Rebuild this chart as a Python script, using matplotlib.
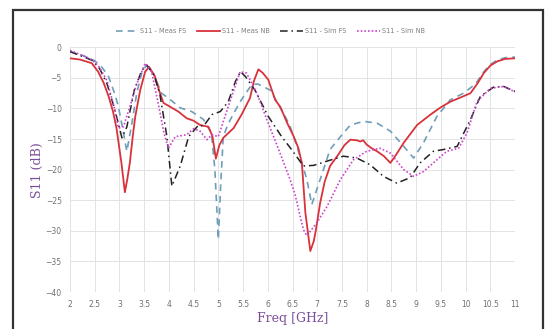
import matplotlib
matplotlib.use("Agg")
import matplotlib.pyplot as plt
from matplotlib.patches import Rectangle

# Meas NB (red solid)
f_meas_nb = [2.0, 2.2, 2.44, 2.57, 2.68, 2.78, 2.87, 2.94, 3.04, 3.11, 3.16, 3.21, 3.27, 3.32, 3.42, 3.52, 3.6,
             3.72, 3.8, 3.89, 4.0, 4.19, 4.36, 4.5, 4.63, 4.8, 4.88, 4.95, 5.02, 5.1, 5.31, 5.47, 5.64, 5.72,
             5.81, 5.9, 6.01, 6.15, 6.25, 6.4, 6.52, 6.62, 6.69, 6.76, 6.86, 6.93, 6.97, 7.06, 7.15, 7.26,
             7.43, 7.55, 7.67, 7.8, 7.87, 7.93, 8.0, 8.1, 8.21, 8.35, 8.48, 8.6, 8.75, 9.02, 9.29, 9.5,
             9.69, 9.9, 10.1, 10.25, 10.37, 10.5, 10.64, 10.8, 11.0]
s_meas_nb = [-1.8, -2.0, -2.6, -4.0, -5.8, -8.0, -10.5, -13.2, -18.9, -23.7, -21.5, -18.9, -14.5, -11.3, -7.0, -4.0, -3.2,
             -4.8, -7.0, -9.1, -9.6, -10.5, -11.6, -12.0, -12.7, -13.0, -14.5, -18.2, -16.0, -14.8, -13.2, -11.0, -8.3, -5.5,
             -3.6, -4.2, -5.3, -8.6, -9.7, -12.5, -14.5, -16.5, -19.0, -27.0, -33.3, -31.7, -30.0, -25.4, -22.0, -19.4,
             -17.5, -16.0, -15.1, -15.2, -15.4, -15.2, -15.9, -16.5, -17.0, -17.8, -18.9, -17.5, -15.6, -12.7, -11.0, -9.8,
             -8.9, -8.2, -7.5, -5.8, -4.2, -3.0, -2.3, -1.9, -1.8]

# Meas FS (blue dashed)
f_meas_fs = [2.0, 2.25, 2.5, 2.65, 2.78, 2.9, 2.98, 3.07, 3.15, 3.25, 3.35, 3.45, 3.55, 3.7, 3.85, 3.99, 4.23,
             4.46, 4.7, 4.86, 4.93, 5.0, 5.05, 5.1, 5.2, 5.31, 5.45, 5.58, 5.68, 5.8, 6.05, 6.32, 6.45, 6.59,
             6.79, 6.89, 7.06, 7.26, 7.47, 7.67, 7.94, 8.21, 8.48, 8.75, 8.95, 9.15, 9.42, 9.69, 9.96, 10.2,
             10.37, 10.5, 10.64, 10.8, 11.0]
s_meas_fs = [-0.7, -1.3, -2.2, -3.3, -4.8, -7.5, -9.7, -13.5, -17.0, -12.5, -7.5, -4.2, -2.9, -4.5, -7.5, -8.3, -9.9,
             -10.5, -11.8, -14.0, -20.0, -31.4, -22.0, -14.6, -12.5, -10.8, -8.8, -7.2, -6.1, -6.0, -7.0, -10.8, -12.9, -16.2,
             -21.6, -25.7, -21.6, -16.7, -14.6, -12.7, -12.1, -12.4, -13.7, -16.2, -18.1, -15.6, -11.3, -8.6, -7.5, -6.0,
             -4.0, -2.8, -2.1, -1.7, -1.6]

# Sim FS (black dash-dot)
f_sim_fs = [2.0, 2.44, 2.6, 2.75, 2.9, 3.05, 3.15, 3.3, 3.45, 3.55, 3.7, 3.82, 3.96, 4.06, 4.23, 4.4, 4.6, 4.7,
            4.87, 5.04, 5.2, 5.35, 5.45, 5.55, 5.74, 6.01, 6.28, 6.48, 6.72, 6.93, 7.2, 7.53, 7.8, 8.07, 8.34,
            8.61, 8.88, 9.08, 9.35, 9.56, 9.83, 10.1, 10.3, 10.57, 10.77, 11.0]
s_sim_fs = [-0.7, -2.1, -3.5, -6.0, -10.0, -14.8, -13.0, -7.0, -3.8, -2.9, -4.5, -7.8, -14.6, -22.7, -19.4, -14.6, -12.7, -12.9,
            -11.0, -10.5, -8.9, -5.5, -4.0, -4.8, -7.0, -11.3, -14.6, -16.7, -19.4, -19.3, -18.6, -17.8, -18.1, -19.2, -21.1,
            -22.2, -21.3, -18.9, -17.0, -16.7, -16.2, -11.8, -8.0, -6.5, -6.4, -7.2]

# Sim NB (magenta dotted)
f_sim_nb = [2.0, 2.44, 2.6, 2.75, 2.9, 2.98, 3.08, 3.2, 3.35, 3.52, 3.65, 3.79, 3.9, 3.99, 4.13, 4.36, 4.5, 4.63,
            4.77, 4.87, 5.0, 5.2, 5.34, 5.44, 5.57, 5.78, 5.98, 6.22, 6.45, 6.55, 6.72, 6.79, 6.99, 7.2, 7.47,
            7.73, 8.0, 8.27, 8.48, 8.75, 8.95, 9.15, 9.42, 9.62, 9.86, 10.03, 10.23, 10.5, 10.77, 11.0]
s_sim_nb = [-0.5, -2.0, -3.3, -5.5, -10.0, -13.2, -13.0, -10.0, -6.0, -2.6, -4.0, -9.4, -14.0, -16.5, -14.6, -14.3, -13.3, -13.7,
            -15.1, -14.3, -14.6, -9.7, -6.4, -4.0, -4.2, -7.5, -11.8, -16.7, -21.6, -24.0, -29.8, -30.8, -28.7, -26.0, -21.6,
            -18.4, -17.0, -16.5, -17.3, -20.0, -21.1, -20.3, -18.4, -17.0, -16.5, -14.0, -8.9, -6.7, -6.4, -7.3]

x_ticks = [2, 2.5, 3, 3.5, 4, 4.5, 5, 5.5, 6, 6.5, 7, 7.5, 8, 8.5, 9, 9.5, 10, 10.5, 11]
x_ticklabels = ["2", "2.5", "3", "3.5", "4", "4.5", "5", "5.5", "6", "6.5", "7", "7.5", "8", "8.5", "9",
                "9.5", "10", "10.5", "11"]
y_ticks = [0, -5, -10, -15, -20, -25, -30, -35, -40]

fig = plt.figure(figsize=(5.46, 3.29), dpi=100)
ax = fig.add_axes([70 / 546, 1 - 292 / 329, 445 / 546, (292 - 47.3) / 329])

ax.plot(f_meas_fs, s_meas_fs, color="#6f9fb8", lw=1.2, ls=(0, (4, 3)), label="S11 - Meas FS")
ax.plot(f_meas_nb, s_meas_nb, color="#d8323a", lw=1.3, ls="-", label="S11 - Meas NB")
ax.plot(f_sim_fs, s_sim_fs, color="#222222", lw=1.1, ls=(0, (5, 2.5, 1, 2.5)), label="S11 - Sim FS")
ax.plot(f_sim_nb, s_sim_nb, color="#cc44cc", lw=1.2, ls=(0, (1, 1.2)), label="S11 - Sim NB")

ax.set_xlim(2, 11)
ax.set_ylim(-40, 0)
ax.set_xticks(x_ticks)
ax.set_xticklabels(x_ticklabels)
ax.set_yticks(y_ticks)
ax.grid(True, color="#e3e3e3", lw=0.7)
ax.set_axisbelow(True)
for sp in ax.spines.values():
    sp.set_visible(False)
ax.tick_params(length=0, labelsize=5.5, labelcolor="#707070", pad=6)

ax.set_xlabel("Freq [GHz]", fontsize=9, color="#7b4f9a", family="DejaVu Serif", labelpad=2)
ax.set_ylabel("S11 (dB)", fontsize=9, color="#7b4f9a", family="DejaVu Serif", labelpad=1)

leg = ax.legend(loc="lower center", bbox_to_anchor=(0.45, 1.03), ncol=4, frameon=False,
                fontsize=4.8, labelcolor="#808080", handlelength=3.4, columnspacing=1.6, handletextpad=0.3)

fig.patches.append(Rectangle((13 / 546, -0.1), 530 / 546, 1.1 - 10 / 329, transform=fig.transFigure,
                             fill=False, edgecolor="#333333", lw=1.6))

fig.savefig("out.png", dpi=100)
